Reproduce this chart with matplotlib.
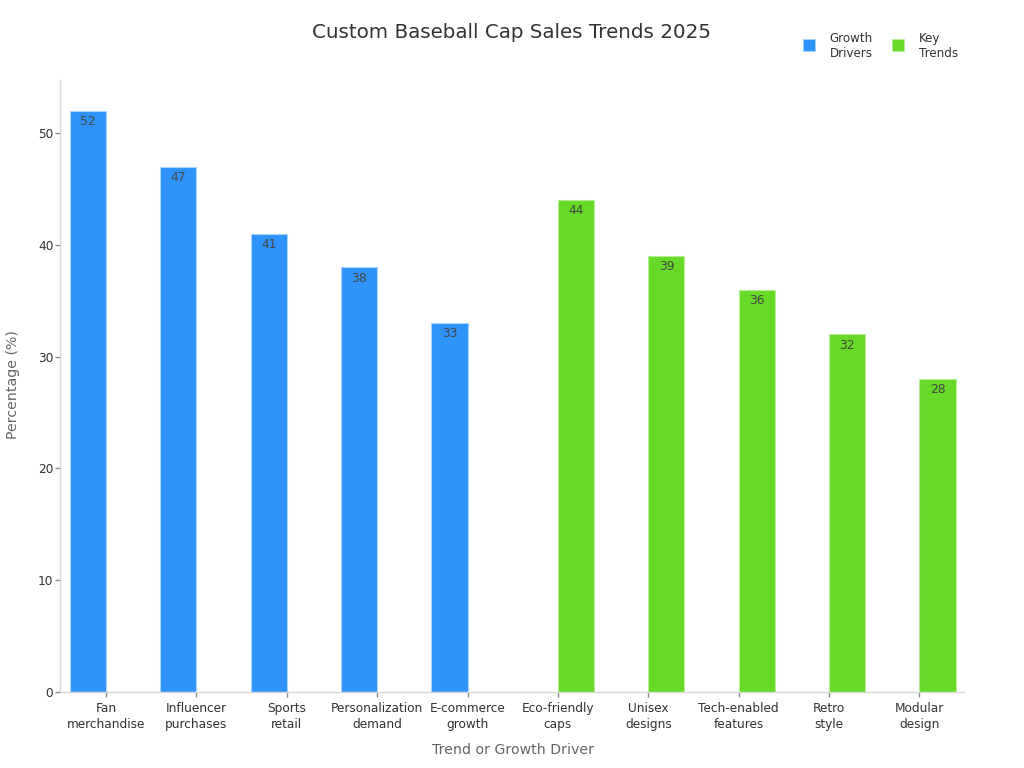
import numpy as np
import matplotlib
matplotlib.use("Agg")
import matplotlib.pyplot as plt
from matplotlib.lines import Line2D

TITLE = "Custom Baseball Cap Sales Trends 2025"
CATEGORIES = ["Fan\nmerchandise", "Influencer\npurchases", "Sports\nretail",
              "Personalization\ndemand", "E-commerce\ngrowth", "Eco-friendly\ncaps",
              "Unisex\ndesigns", "Tech-enabled\nfeatures", "Retro\nstyle", "Modular\ndesign"]
GROWTH_DRIVERS = [52, 47, 41, 38, 33, None, None, None, None, None]
KEY_TRENDS = [None, None, None, None, None, 44, 39, 36, 32, 28]
Y_TICKS = [0, 10, 20, 30, 40, 50]
SERIES_NAMES = ["Growth\nDrivers", "Key\nTrends"]

BLUE = "#2E93FA"
GREEN = "#66DA26"
W, H = 1024, 768
fig = plt.figure(figsize=(W / 100, H / 100), dpi=100, facecolor="white")
ax = fig.add_axes([60.4 / W, 1 - 692 / H, 903.8 / W, 612 / H])

x = np.arange(len(CATEGORIES))
width = 0.4


def draw(values, offset, color, edge):
    idx = [i for i, v in enumerate(values) if v is not None]
    vals = [values[i] for i in idx]
    bars = ax.bar(x[idx] + offset, vals, width, color=color, edgecolor=edge, linewidth=0.8)
    ax.bar_label(bars, labels=[str(v) for v in vals], label_type="edge", padding=-12.5,
                 fontsize=8.8, color="#454545", family="DejaVu Sans")


draw(GROWTH_DRIVERS, -width / 2, BLUE, "#A6D2FD")
draw(KEY_TRENDS, width / 2, GREEN, "#B5EC95")

ax.set_xlim(-0.505, len(CATEGORIES) - 0.505)
ax.set_ylim(0, 54.74)
ax.set_xticks(x, CATEGORIES)
ax.set_yticks(Y_TICKS)
for s in ("top", "right"):
    ax.spines[s].set_visible(False)
for s in ("left", "bottom"):
    ax.spines[s].set_color("#d8d8d8")
    ax.spines[s].set_linewidth(1)
ax.tick_params(axis="x", length=3.6, width=1, color="#8a8a8a", labelsize=8.7,
               labelcolor="#333333", pad=3.5)
ax.tick_params(axis="y", length=3.6, width=1, color="#8a8a8a", labelsize=8.7,
               labelcolor="#333333", pad=1.5)
for lbl in ax.get_xticklabels():
    lbl.set_linespacing(1.28)

fig.text(512 / W, 1 - 33 / H, TITLE, ha="center", va="center", fontsize=14.35, color="#333333")
fig.text(513 / W, 1 - 750 / H, "Trend or Growth Driver", ha="center", va="center",
         fontsize=10.2, color="#666666")
fig.text(13.5 / W, 1 - 385 / H, "Percentage (%)", ha="center", va="center", rotation=90,
         fontsize=10.2, color="#666666")

handles = [Line2D([], [], linestyle="none", marker="s", markersize=8.5, color=BLUE,
                  markeredgecolor="#A6D2FD", markeredgewidth=0.6),
           Line2D([], [], linestyle="none", marker="s", markersize=8.5, color=GREEN,
                  markeredgecolor="#B5EC95", markeredgewidth=0.6)]
leg = fig.legend(handles, SERIES_NAMES, ncols=2, frameon=False, fontsize=8.6,
                 loc="center right", bbox_to_anchor=(964 / W, 1 - 46 / H),
                 labelcolor="#333333", handlelength=1, handleheight=1.5, handletextpad=1.25,
                 columnspacing=1.6, borderpad=0, labelspacing=0)
for t in leg.get_texts():
    t.set_linespacing(1.28)

fig.savefig("out.png", dpi=100)
